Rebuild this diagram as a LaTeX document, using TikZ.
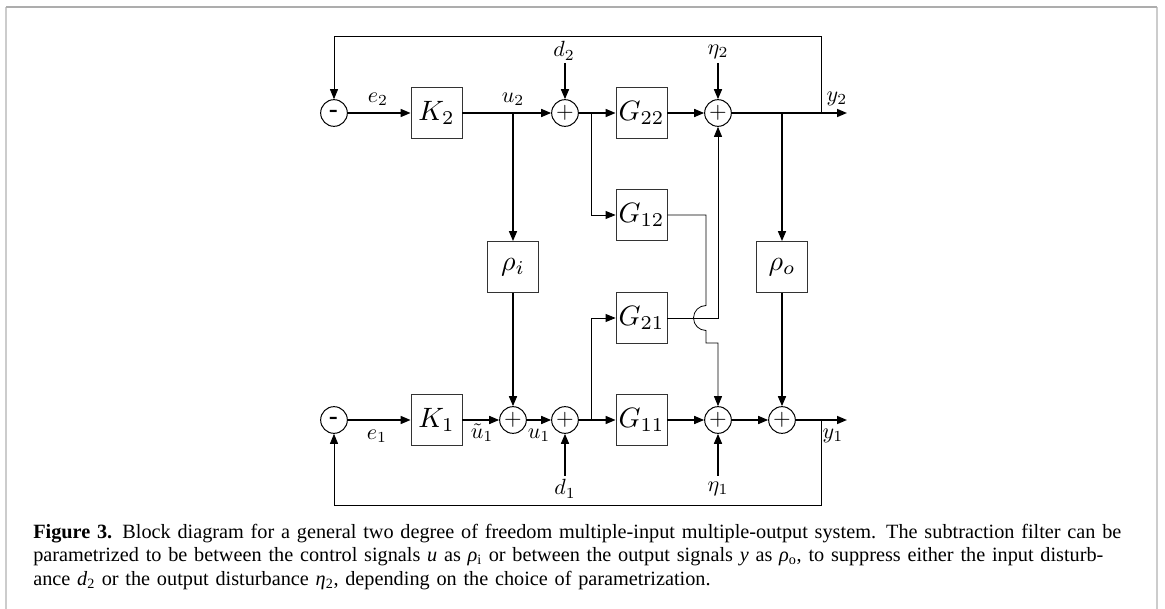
\documentclass[tikz,border=0pt]{standalone}
\usepackage[no-math]{fontspec}
\newfontfamily\capfont{Liberation Serif}
\usetikzlibrary{arrows.meta}
\newcommand\bl[1]{\scalebox{2.1}{$#1$}}
\newcommand\plussign{\scalebox{1.7}{$+$}}
\newcommand\minussign{\scalebox{1.7}{\textbf{-}}}
\begin{document}
\begin{tikzpicture}[x=0.75pt,y=-0.75pt,
  blk/.style={draw=black!80, line width=0.6pt, minimum width=38.25pt, minimum height=38.25pt, inner sep=0pt},
  sumc/.style={draw, circle, line width=0.75pt, minimum size=20pt, inner sep=0pt},
  sig/.style={line width=1.2pt, -{Triangle[length=7.5pt,width=6pt]}},
  thn/.style={line width=0.6pt},
  thna/.style={line width=0.6pt, -{Triangle[length=7.5pt,width=6pt]}},
  lbl/.style={inner sep=0pt, scale=1.65},
  frm/.style={line width=1.5pt}]
\useasboundingbox (0,0) rectangle (1165,609);
% frame
\draw[frm, black!20] (6,609) -- (6,7);
\draw[frm, black!20] (1157,7) -- (1157,609);
\draw[frm, black!32] (6,7) -- (1157,7);

% top row
\node[sumc] (mT) at (334,113) {\minussign};
\node[blk] (K2) at (436.5,113) {\bl{K_2}};
\coordinate (bu2) at (513,113);
\node[sumc] (sT1) at (565,113) {\plussign};
\coordinate (b1) at (591,113);
\node[blk] (G22) at (641.5,113) {\bl{G_{22}}};
\node[sumc] (sT2) at (718,113) {\plussign};
\coordinate (bro) at (782,113);
\coordinate (ft) at (821,113);
\coordinate (fa) at (821,36);
\coordinate (y2e) at (847,113);
\coordinate (d2s) at (565,63);
\coordinate (n2s) at (718,63);

% middle
\node[blk] (rhoi) at (513,267) {\bl{\rho_i}};
\node[blk] (rhoo) at (782,267) {\bl{\rho_o}};
\node[blk] (G12) at (641.5,215) {\bl{G_{12}}};
\node[blk] (G21) at (641.5,318) {\bl{G_{21}}};

% bottom row
\node[sumc] (mB) at (334,420) {\minussign};
\node[blk] (K1) at (436.5,420) {\bl{K_1}};
\node[sumc] (sR) at (513,420) {\plussign};
\node[sumc] (sD) at (565,420) {\plussign};
\coordinate (b2) at (591,420);
\node[blk] (G11) at (641.5,420) {\bl{G_{11}}};
\node[sumc] (sB2) at (718,420) {\plussign};
\node[sumc] (sO) at (782,420) {\plussign};
\coordinate (fb) at (821,420);
\coordinate (fbb) at (821,505);
\coordinate (y1e) at (847,420);
\coordinate (d1s) at (565,476);
\coordinate (n1s) at (718,476);

% hop path coordinates
\coordinate (h0) at (706,215);
\coordinate (h1) at (706,305.5);
\coordinate (h2) at (706,330.5);
\coordinate (h3) at (706,343);
\coordinate (h4) at (718,343);

% labels
\node[lbl] (le2) at (378,99) {$e_2$};
\node[lbl] (lu2) at (513,99) {$u_2$};
\node[lbl] (ld2) at (564,51) {$d_2$};
\node[lbl] (ln2) at (718,52) {$\eta_2$};
\node[lbl] (ly2) at (837,99) {$y_2$};
\node[lbl] (le1) at (377,436) {$e_1$};
\node[lbl] (lut1) at (482,433) {$\tilde{u}_1$};
\node[lbl] (lu1) at (539,435) {$u_1$};
\node[lbl] (ld1) at (565,489) {$d_1$};
\node[lbl] (ln1) at (718,489) {$\eta_1$};
\node[lbl] (ly1) at (833,436) {$y_1$};

% top connections
\draw[sig] (mT) -- (K2);
\draw[sig] (K2) -- (sT1);
\draw[sig] (sT1) -- (G22);
\draw[sig] (G22) -- (sT2);
\draw[sig] (sT2) -- (y2e);
\draw[sig] (d2s) -- (sT1.north);
\draw[sig] (n2s) -- (sT2.north);
\draw[thna] (ft) -- (fa) -| (mT.north);

% vertical couplings
\draw[sig] (bu2) -- (rhoi.north);
\draw[sig] (rhoi) -- (sR.north);
\draw[sig] (bro) -- (rhoo.north);
\draw[sig] (rhoo) -- (sO.north);
\draw[thna] (b1) |- (G12.west);
\draw[thna] (b2) |- (G21.west);
\draw[thna] (G21.east) -| (sT2.south);
\draw[thna] (G12.east) -- (h0) -- (h1)
   .. controls (699.1,305.5) and (693.5,311.1) .. (693.5,318)
   .. controls (693.5,324.9) and (699.1,330.5) .. (h2)
   -- (h3) -- (h4) -- (sB2.north);

% bottom connections
\draw[sig] (mB) -- (K1);
\draw[sig] (K1) -- (sR);
\draw[sig] (sR) -- (sD);
\draw[sig] (sD) -- (G11);
\draw[sig] (G11) -- (sB2);
\draw[sig] (sB2) -- (sO);
\draw[sig] (sO) -- (y1e);
\draw[sig] (d1s) -- (sD.south);
\draw[sig] (n1s) -- (sB2.south);
\draw[thna] (fb) -- (fbb) -| (mB.south);

% caption
\node[anchor=north west, inner sep=0pt, text width=826.5pt, font=\capfont\fontsize{15.2}{17.5}\selectfont] (cap) at (33,524)
{\noindent\textbf{Figure 3.} Block diagram for a general two degree of freedom multiple-input multiple-output system. The subtraction filter can be\linebreak
parametrized to be between the control signals \textit{u} as \textit{ρ}\textsubscript{i} or between the output signals \textit{y} as \textit{ρ}\textsubscript{o}, to suppress either the input disturb-\linebreak
ance \textit{d}\textsubscript{2} or the output disturbance \textit{η}\textsubscript{2}, depending on the choice of parametrization.};
\end{tikzpicture}
\end{document}
